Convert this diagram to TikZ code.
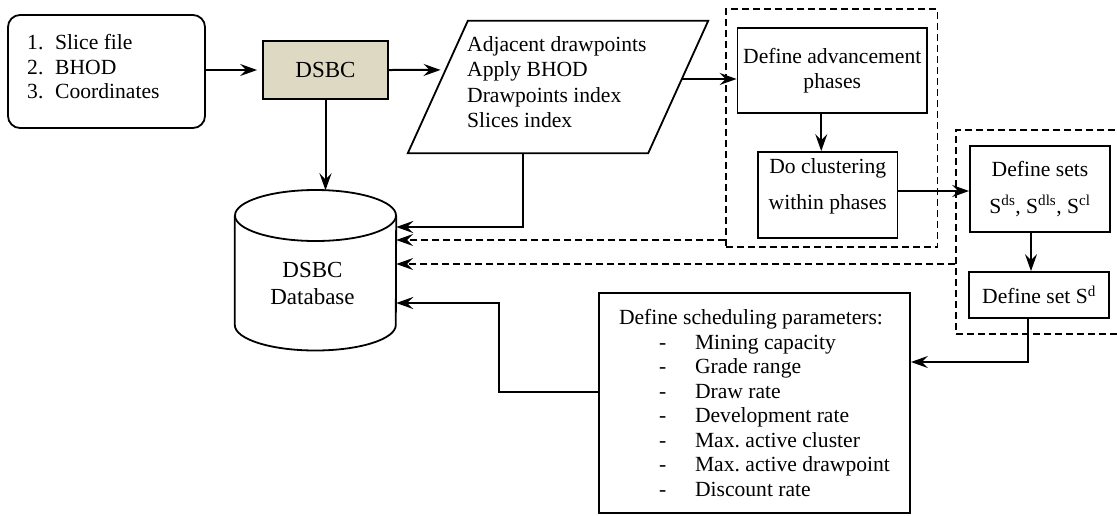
\documentclass[tikz,border=0pt]{standalone}
\usepackage{fontspec}
\setmainfont{Liberation Serif}
\usetikzlibrary{arrows.meta,calc}
\definecolor{dsbcfill}{HTML}{DDD9C3}

\begin{document}
\begin{tikzpicture}[x=1pt,y=-1pt,
    >={Stealth[length=17pt,width=12pt,inset=6pt]},
    every node/.style={font=\frenchspacing\fontsize{21.6}{24.5}\selectfont},
    box/.style={draw,line width=1.8pt,inner sep=0pt,align=center},
    link/.style={->,line width=2pt},
    dashlink/.style={->,line width=1.5pt,dash pattern=on 7pt off 4pt},
    group/.style={draw,line width=1.5pt,dash pattern=on 7pt off 4pt,inner sep=0pt}]
    \useasboundingbox (0,0) rectangle (1117,515);

    \node[box,rounded corners=12pt,minimum width=197,minimum height=113] (input) at (106.5,71.5) {};
    \node[align=left,anchor=west,inner sep=0pt] (inputtext) at (27,67)
        {\makebox[28pt][l]{1.}Slice file\\\makebox[28pt][l]{2.}BHOD\\\makebox[28pt][l]{3.}Coordinates};
    \node[box,fill=dsbcfill,minimum width=125,minimum height=58,font=\fontsize{23}{26}\selectfont] (dsbc) at (325.5,70) {DSBC};

    % parallelogram
    \node[minimum width=300,minimum height=132] (para) at (558,87) {};
    \coordinate (paraNW) at ([xshift=60pt]para.north west);
    \coordinate (paraSE) at ([xshift=-60pt]para.south east);
    \draw[line width=1.8pt] (para.south west) -- (paraNW) -- (para.north east) -- (paraSE) -- cycle;
    \coordinate (parain) at ($(para.south west)!0.629!(paraNW)$);
    \coordinate (paraout) at ($(para.north east)!0.4394!(paraSE)$);
    \node[align=left,anchor=west,inner sep=0pt,font=\fontsize{21.6}{25.5}\selectfont] (paratext) at (467,82)
        {Adjacent drawpoints\\Apply BHOD\\Drawpoints index\\Slices index};

    % database cylinder
    \node[minimum width=161,minimum height=160] (db) at (315.5,270.5) {};
    \draw[line width=1.8pt] (db.west |- 0,215.5) -- (db.west |- 0,325)
        arc[start angle=180,end angle=0,x radius=80.5,y radius=25.5] -- (db.east |- 0,215.5);
    \draw[line width=1.8pt] (db.center |- 0,215.5) ellipse[x radius=80.5,y radius=25.5];
    \node[align=center,font=\fontsize{23}{27}\selectfont] (dbtext) at (312.5,283.5) {DSBC\\Database};

    \node[group,minimum width=211.5,minimum height=238] (grpA) at (831.75,128) {};
    \node[box,minimum width=189.5,minimum height=85] (adv) at (832.25,70.5) {Define advancement\\phases};
    \node[box,minimum width=139.5,minimum height=86] (clus) at (827.75,195) {};
    \node[align=center] (clustext) at (827.75,186.5) {Do clustering\\[12pt]within phases};

    \node[group,minimum width=170,minimum height=204] (grpB) at (1041,232) {};
    \node[box,minimum width=140,minimum height=86] (sets) at (1040,189)
        {Define sets\\[12pt]S\textsuperscript{ds}, S\textsuperscript{dls}, S\textsuperscript{cl}};
    \node[box,minimum width=140,minimum height=46] (sd) at (1039,295) {Define set S\textsuperscript{d}};

    \node[box,minimum width=311,minimum height=220,align=left] (sched) at (754.5,403)
        {Define scheduling parameters:\\
        \hspace*{40pt}\makebox[36pt][l]{-}Mining capacity\\
        \hspace*{40pt}\makebox[36pt][l]{-}Grade range\\
        \hspace*{40pt}\makebox[36pt][l]{-}Draw rate\\
        \hspace*{40pt}\makebox[36pt][l]{-}Development rate\\
        \hspace*{40pt}\makebox[36pt][l]{-}Max. active cluster\\
        \hspace*{40pt}\makebox[36pt][l]{-}Max. active drawpoint\\
        \hspace*{40pt}\makebox[36pt][l]{-}Discount rate};

    % flow
    \draw[link,shorten >=5pt] (input.east |- dsbc.west) -- (dsbc.west);
    \draw[link,shorten >=5pt] (dsbc.east) -- (parain);
    \draw[link] (dsbc.south) -- (dsbc.south |- db.north);
    \draw[link] ([xshift=-35pt]para.south) |- (db.east |- 0,227);
    \draw[link] (paraout) -- (paraout -| adv.west);
    \draw[link] ([xshift=-11pt]adv.south) -- ([xshift=-11pt]adv.south |- clus.north);
    \draw[link] (clus.east |- 0,191) -- (sets.west |- 0,191);
    \draw[link] ([xshift=-9pt]sets.south) -- ([xshift=-9pt]sets.south |- sd.north);
    \draw[link] ([xshift=-11pt]sd.south) |- (sched.east |- 0,362);
    \draw[link] (sched.west |- 0,392) -- (499,392) |- (db.east |- 0,303);
    \draw[dashlink] (grpA.west |- 0,240) -- (db.east |- 0,240);
    \draw[dashlink] (grpB.west |- 0,264) -- (db.east |- 0,264);
\end{tikzpicture}
\end{document}
